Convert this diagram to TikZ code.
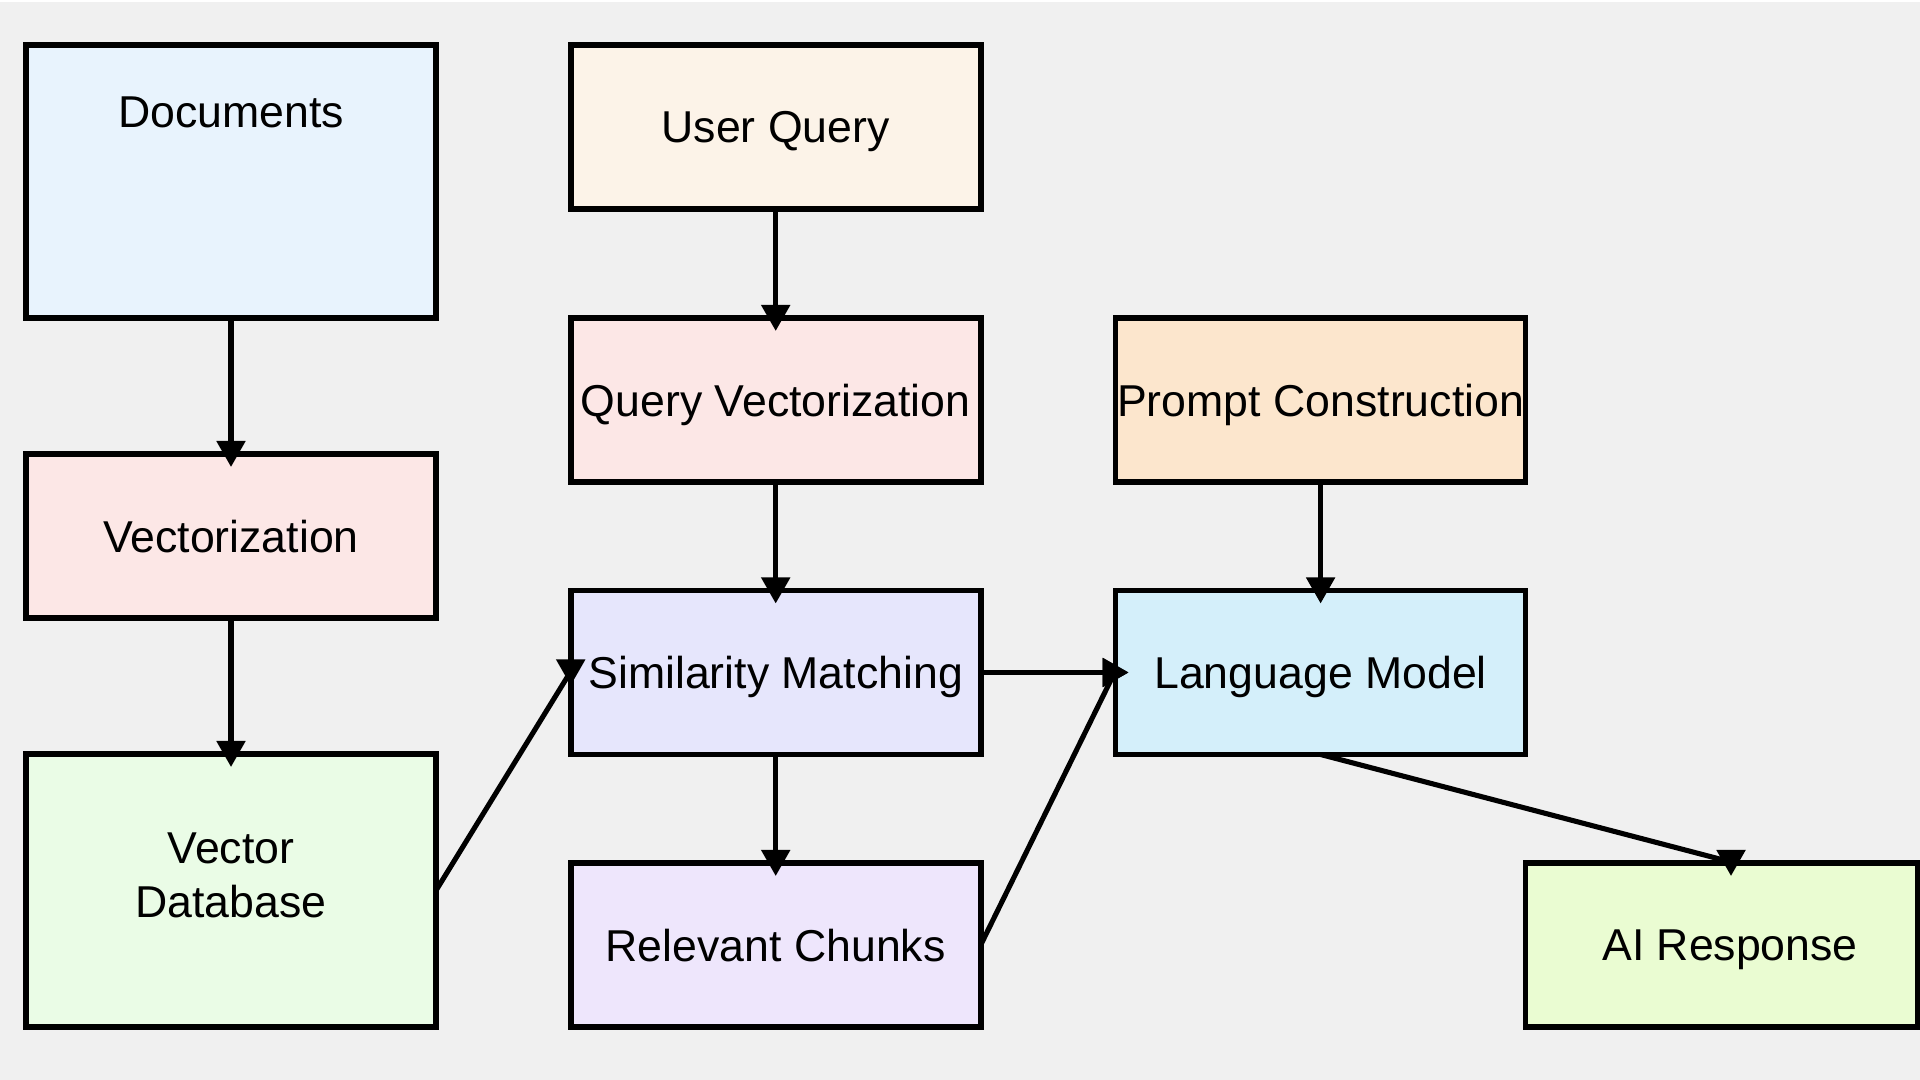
\documentclass[tikz,border=0pt]{standalone}
\usepackage{fontspec}
\setmainfont{Liberation Sans}
\usetikzlibrary{arrows.meta}

\definecolor{bggrey}{HTML}{F0F0F0}
\definecolor{docblue}{HTML}{E8F3FD}
\definecolor{querycream}{HTML}{FCF3E8}
\definecolor{vecpink}{HTML}{FCE7E6}
\definecolor{promptpeach}{HTML}{FCE6CD}
\definecolor{simlavender}{HTML}{E6E6FC}
\definecolor{lmcyan}{HTML}{D4EFFA}
\definecolor{dbgreen}{HTML}{EAFCE6}
\definecolor{chunkpurple}{HTML}{EEE6FC}
\definecolor{resplime}{HTML}{EAFCD2}

\begin{document}
\begin{tikzpicture}[scale=1,
		lbl/.style={font=\fontsize{12.7}{15.4}\selectfont},
		box/.style={lbl, draw=black, line width=1.6pt, inner sep=0pt, outer sep=0pt, text depth=0pt, minimum width=4.1cm, minimum height=1.64cm},
		tall/.style={box, minimum height=2.73cm},
		flow/.style={line width=1.45pt, -{Triangle[length=0.26cm,width=0.28cm]}, shorten >=-0.13cm}]
			\fill[bggrey] (0,0) rectangle (19.2,10.78);
			\fill[white] (0,10.78) rectangle (19.2,10.8);
			\useasboundingbox (0,0) rectangle (19.2,10.8);
			% left column
			\node[tall, fill=docblue, label={[lbl, yshift=0.69cm]center:Documents}] (docs) at (2.31,8.985) {};
			\node[box, fill=vecpink] (vec) at (2.31,5.44) {Vectorization};
			\node[tall, fill=dbgreen, label={[lbl, align=center, yshift=0.15cm]center:Vector\\Database}] (vdb) at (2.31,1.895) {};
			% middle column
			\node[box, fill=querycream] (query) at (7.757,9.53) {User Query};
			\node[box, fill=vecpink] (qvec) at (7.757,6.80) {Query Vectorization};
			\node[box, fill=simlavender] (sim) at (7.757,4.075) {Similarity Matching};
			\node[box, fill=chunkpurple] (chunks) at (7.757,1.35) {Relevant Chunks};
			% right column
			\node[box, fill=promptpeach] (prompt) at (13.206,6.80) {Prompt Construction};
			\node[box, fill=lmcyan] (llm) at (13.206,4.075) {Language Model};
			\node[box, fill=resplime, minimum width=3.92cm] (resp) at (17.215,1.35) {\hspace*{0.17cm}AI Response};
			% arrows
			\draw[flow] (docs.south) -- (vec.north);
			\draw[flow] (vec.south) -- (vdb.north);
			\draw[flow] (query.south) -- (qvec.north);
			\draw[flow] (qvec.south) -- (sim.north);
			\draw[flow] (sim.south) -- (chunks.north);
			\draw[flow] (prompt.south) -- (llm.north);
			\draw[flow] (sim.east) -- (llm.west);
			\draw[flow] (vdb.east) -- ([yshift=0.01cm]sim.west) -- (sim.west);
			\draw[flow] (chunks.east) -- ([xshift=-0.01cm]llm.west) -- (llm.west);
			\draw[flow] (llm.south) -- ([xshift=0.095cm,yshift=0.01cm]resp.north) -- ([xshift=0.095cm]resp.north);
		\end{tikzpicture}
\end{document}
